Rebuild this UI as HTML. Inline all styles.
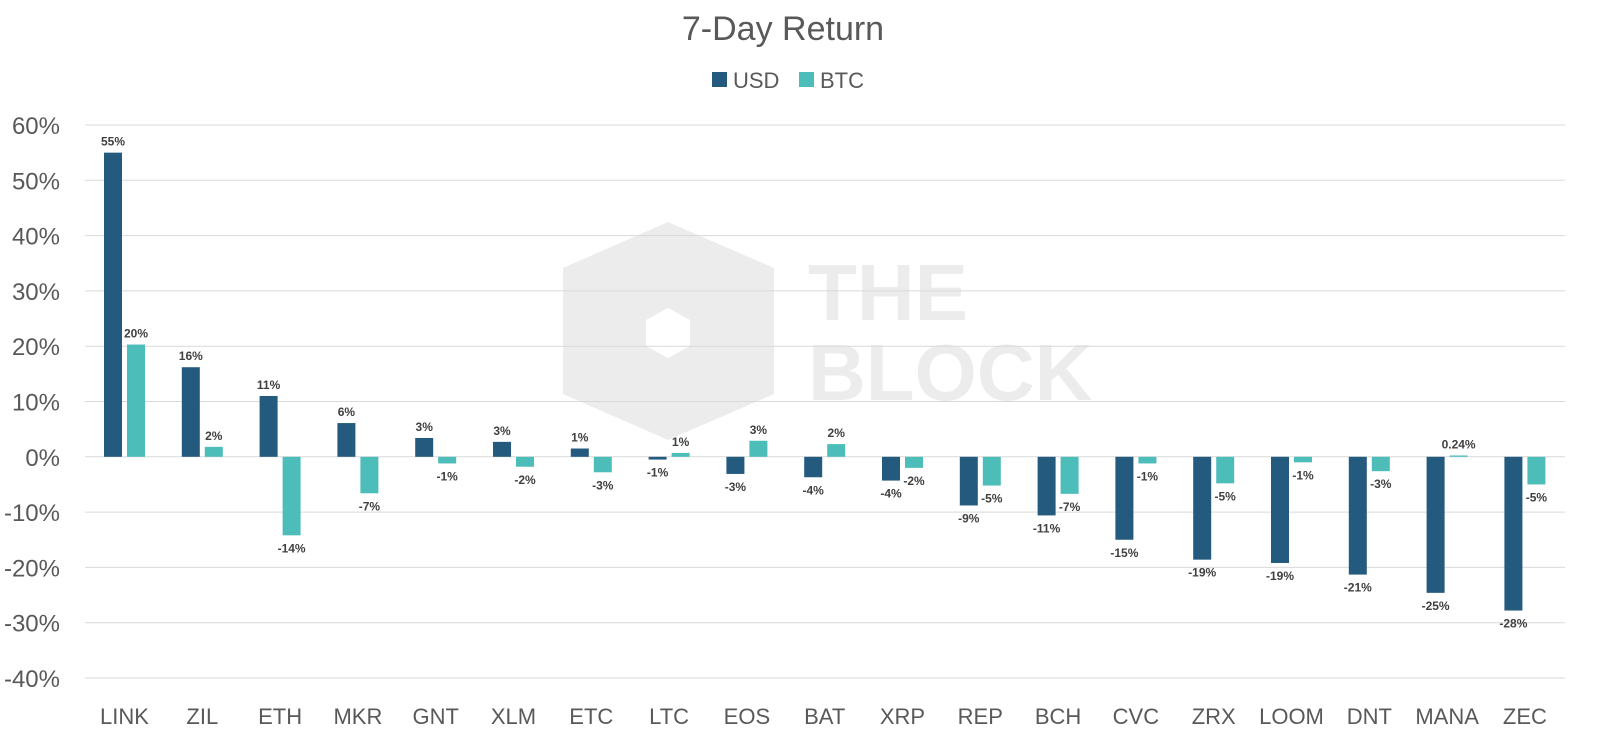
<!DOCTYPE html>
<html><head><meta charset="utf-8"><style>
body{margin:0;background:#fff;width:1600px;height:748px;overflow:hidden;font-family:"Liberation Sans",sans-serif}
</style></head><body>
<svg id="c" width="1600" height="748" xmlns="http://www.w3.org/2000/svg" font-family="Liberation Sans, sans-serif"></svg>
<script>
const s=document.getElementById('c');
let h='';
h+='<text x="783" y="40" text-anchor="middle" font-size="34" fill="#595959">7-Day Return</text>';
h+='<rect x="712" y="72" width="15" height="15" fill="#245a7e"/><text x="733" y="88" font-size="22" fill="#595959">USD</text>';
h+='<rect x="799" y="72" width="15" height="15" fill="#4dbdba"/><text x="820" y="88" font-size="22" fill="#595959">BTC</text>';
// watermark
h+='<polygon points="668,222 774,268 774,394 668,440 563,394 563,268" fill="#ececec"/>';
h+='<polygon points="668,308 690,320 690,346 668,358 646,346 646,320" fill="#fff"/>';
h+='<text x="808" y="320" font-size="80" font-weight="bold" fill="#ececec">THE</text>';
h+='<text x="808" y="400" font-size="80" font-weight="bold" fill="#ececec">BLOCK</text>';
const y0=456.8,k=5.53;
for(let v=60;v>=-40;v-=10){const y=y0-v*k;
h+=`<line x1="85" x2="1565" y1="${y}" y2="${y}" stroke="#d9d9d9" stroke-width="1"/>`;
h+=`<text x="60" y="${y+9}" text-anchor="end" font-size="24" fill="#595959">${v}%</text>`;}
const n=['LINK','ZIL','ETH','MKR','GNT','XLM','ETC','LTC','EOS','BAT','XRP','REP','BCH','CVC','ZRX','LOOM','DNT','MANA','ZEC'];
const u=[55,16.2,11,6.1,3.4,2.7,1.5,-0.5,-3.1,-3.7,-4.3,-8.8,-10.6,-15,-18.6,-19.2,-21.3,-24.6,-27.8];
const ul=['55%','16%','11%','6%','3%','3%','1%','-1%','-3%','-4%','-4%','-9%','-11%','-15%','-19%','-19%','-21%','-25%','-28%'];
const b=[20.3,1.8,-14.2,-6.6,-1.2,-1.8,-2.8,0.7,2.9,2.3,-2,-5.2,-6.7,-1.2,-4.8,-1,-2.6,0.24,-5];
const bl=['20%','2%','-14%','-7%','-1%','-2%','-3%','1%','3%','2%','-2%','-5%','-7%','-1%','-5%','-1%','-3%','0.24%','-5%'];
function bar(x,v,l,c){const y=y0-v*k;const top=Math.min(y,y0),ht=Math.abs(y-y0);
h+=`<rect x="${x}" y="${top}" width="18" height="${ht}" fill="${c}"/>`;
const ty=v>=0?top-7:top+ht+17;
h+=`<text x="${x+9}" y="${ty}" text-anchor="middle" font-size="12" font-weight="bold" fill="#404040">${l}</text>`;}
for(let i=0;i<19;i++){const cx=124.5+i*77.8;
bar(cx-20.5,u[i],ul[i],'#245a7e');bar(cx+2.5,b[i],bl[i],'#4dbdba');
h+=`<text x="${cx}" y="724" text-anchor="middle" font-size="22" fill="#595959">${n[i]}</text>`;}
s.innerHTML=h;
</script>
</body></html>
